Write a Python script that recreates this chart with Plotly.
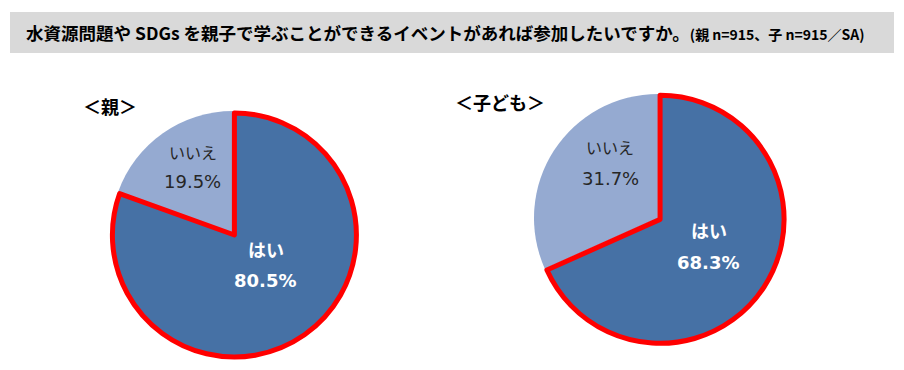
import plotly.graph_objects as go

# ---- data ----
title_main = "水資源問題や SDGs を親子で学ぶことができるイベントがあれば参加したいですか。"
title_sub = "(親 n=915、子 n=915／SA)"
groups = ["＜親＞", "＜子ども＞"]
labels = ["いいえ", "はい"]
parent_values = [19.5, 80.5]
child_values = [31.7, 68.3]
all_values = [parent_values, child_values]

W, H = 904, 370
DARK = "#4671A5"
LIGHT = "#95AAD1"
RED = "#FF0000"
CJK = "Noto Sans CJK JP"
NUM = "DejaVu Sans, Noto Sans CJK JP"

def px_x(x):
    return x / W

def px_y(y):
    return 1 - y / H

# layout of the two pies: center (px), radius (px)
pie_geom = [((233, 233), 122), ((658, 218), 124)]
pull = 0.02

fig = go.Figure()
for vals, ((cx, cy), r) in zip(all_values, pie_geom):
    R = r * (1 + pull)
    # "はい" starts at 12 o'clock going clockwise; "いいえ" fills the rest
    rot = -360.0 * vals[0] / sum(vals)
    fig.add_trace(go.Pie(
        labels=labels,
        values=vals,
        sort=False,
        direction="clockwise",
        rotation=rot,
        pull=[0, pull],
        marker=dict(colors=[LIGHT, DARK],
                    line=dict(color=["rgba(0,0,0,0)", RED], width=[0, 5])),
        textinfo="none",
        hoverinfo="label+percent",
        showlegend=False,
        domain=dict(x=[px_x(cx - R), px_x(cx + R)],
                    y=[px_y(cy + R), px_y(cy - R)]),
    ))

annotations = []
# title
annotations.append(dict(
    x=px_x(24), y=px_y(33), xref="paper", yref="paper",
    xanchor="left", yanchor="middle", showarrow=False,
    text=f"<b>{title_main}</b><span style='font-size:14px'><b>{title_sub}</b></span>",
    font=dict(family=CJK, size=17.5, color="#000000"),
))
# group labels
group_pos = [(110, 106), (500, 102)]
for g, (gx, gy) in zip(groups, group_pos):
    annotations.append(dict(
        x=px_x(gx), y=px_y(gy), xref="paper", yref="paper",
        xanchor="center", yanchor="middle", showarrow=False,
        text=f"<b>{g}</b>", font=dict(family=CJK, size=18, color="#000000"),
    ))

# slice labels
label_pos = [
    {"いいえ": ((193, 152), (192, 181)), "はい": ((266, 249), (265, 280))},
    {"いいえ": ((610, 147), (610, 178)), "はい": ((709, 230), (708, 262))},
]
for vals, pos in zip(all_values, label_pos):
    for lab, v in zip(labels, vals):
        (lx, ly), (vx, vy) = pos[lab]
        if lab == "はい":
            col = "#FFFFFF"
            t1, t2 = f"<b>{lab}</b>", f"<b>{v:.1f}%</b>"
            s1 = 18
        else:
            col = "#262626"
            t1, t2 = lab, f"{v:.1f}%"
            s1 = 16
        annotations.append(dict(
            x=px_x(lx), y=px_y(ly), xref="paper", yref="paper",
            xanchor="center", yanchor="middle", showarrow=False,
            text=t1, font=dict(family=CJK, size=s1, color=col)))
        annotations.append(dict(
            x=px_x(vx), y=px_y(vy), xref="paper", yref="paper",
            xanchor="center", yanchor="middle", showarrow=False,
            text=t2, font=dict(family=NUM, size=18, color=col)))

fig.update_layout(
    width=W, height=H,
    margin=dict(l=0, r=0, t=0, b=0),
    paper_bgcolor="#FFFFFF",
    plot_bgcolor="#FFFFFF",
    annotations=annotations,
    shapes=[dict(type="rect", xref="paper", yref="paper",
                 x0=px_x(10), x1=px_x(894), y0=px_y(53), y1=px_y(12),
                 fillcolor="#D9D9D9", line=dict(width=0), layer="below")],
)

fig.write_html("out.html", config={"displayModeBar": False},
               post_script="document.body.style.margin='0';")
